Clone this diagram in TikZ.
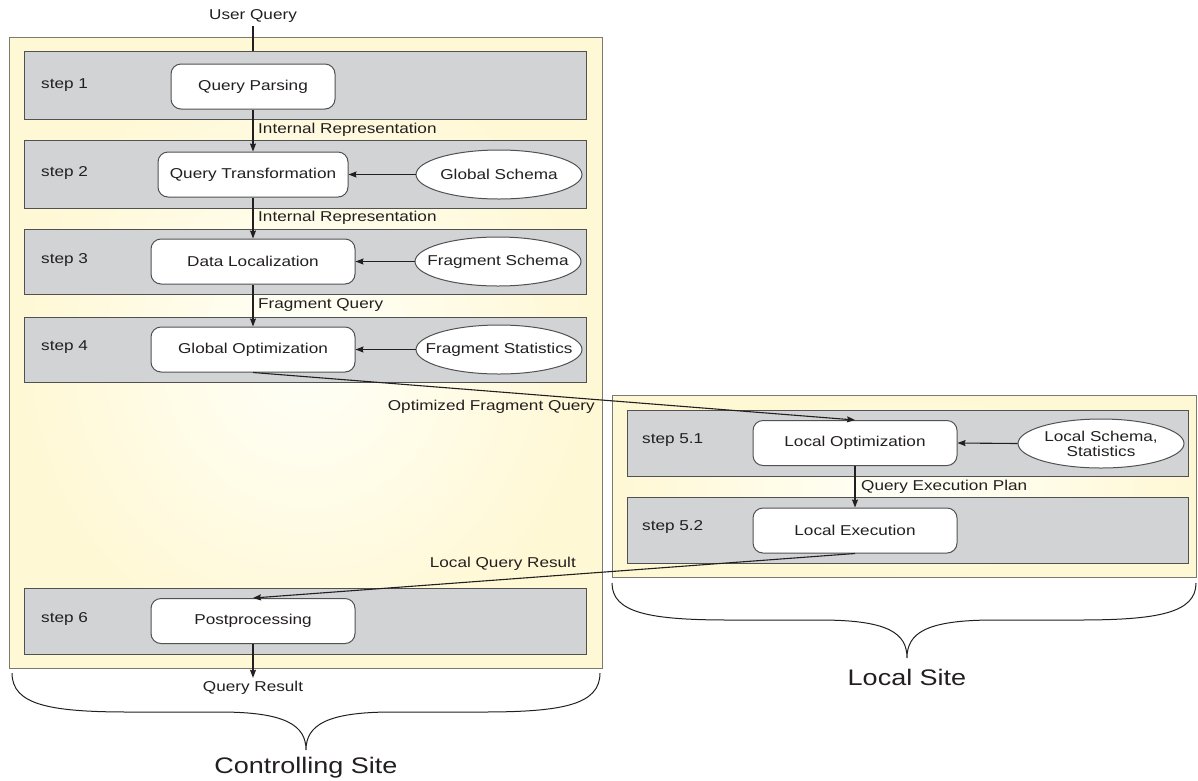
\documentclass[tikz,border=0pt]{standalone}
\usepackage{fontspec}
\setmainfont[FakeStretch=1.2]{Liberation Sans}
\usetikzlibrary{arrows.meta,shapes.geometric}

\definecolor{bandgray}{HTML}{D1D3D4}
\definecolor{edgegray}{HTML}{505153}
\definecolor{inkc}{HTML}{231F20}
\definecolor{siteedge}{HTML}{7A7A70}
\definecolor{paleyellow}{HTML}{FFF8D4}
\definecolor{creamy}{HTML}{FFFFF8}

\begin{document}
\begin{tikzpicture}[x=1pt,y=-1pt,
  every node/.style={font=\fontsize{14.3}{16}\selectfont, text=inkc},
  site/.style={rectangle, draw=siteedge, line width=1.2pt, inner color=creamy,
    outer color=paleyellow, inner sep=0pt, anchor=north west},
  band/.style={rectangle, draw=edgegray, fill=bandgray, line width=1pt,
    inner sep=0pt, anchor=north west},
  proc/.style={rectangle, draw=edgegray, fill=white, rounded corners=10pt,
    line width=1pt, minimum height=45pt, minimum width=204pt, inner sep=0pt},
  store/.style={ellipse, draw=edgegray, fill=white, line width=1pt,
    minimum width=166pt, minimum height=49pt, inner xsep=-30pt, inner ysep=0pt,
    align=center, font=\fontsize{14.3}{15}\selectfont},
  flow/.style={draw=inkc, line width=1.1pt, -{Stealth[length=8pt,width=6pt,inset=1pt]}},
  plain/.style={draw=inkc, line width=1.1pt},
  steplabel/.style={anchor=west, inner sep=0pt},
  flowlabel/.style={anchor=west, inner sep=0pt},
  sitename/.style={font=\fontsize{22.5}{26}\selectfont},
  curly/.style={draw=inkc, line width=1pt}
]
\useasboundingbox (0,0) rectangle (1198,780);

% ---- site frames ----
\node[site, minimum width=593pt, minimum height=631pt] (ctrl) at (9,37) {};
\node[site, minimum width=584pt, minimum height=182pt] (local) at (612,395) {};

% ---- step bands, controlling site ----
\node[band, minimum width=562pt, minimum height=68pt] (band1) at (24,51) {};
\node[band, minimum width=562pt, minimum height=68pt] (band2) at (24,140) {};
\node[band, minimum width=562pt, minimum height=65pt] (band3) at (24,229) {};
\node[band, minimum width=562pt, minimum height=65pt] (band4) at (24,317) {};
\node[band, minimum width=562pt, minimum height=66pt] (band6) at (24,588) {};
% ---- step bands, local site ----
\node[band, minimum width=561pt, minimum height=66pt] (band51) at (627,410) {};
\node[band, minimum width=561pt, minimum height=66pt] (band52) at (627,497) {};

% ---- step names ----
\node[steplabel] (s1) at (41,85) {step 1};
\node[steplabel] (s2) at (41,173) {step 2};
\node[steplabel] (s3) at (41,260) {step 3};
\node[steplabel] (s4) at (41,347) {step 4};
\node[steplabel] (s6) at (41,619) {step 6};
\node[steplabel] (s51) at (642,440) {step 5.1};
\node[steplabel] (s52) at (642,527) {step 5.2};

% ---- processing stages ----
\node[proc, minimum width=164pt] (qp) at (253,86.5) {Query Parsing};
\node[proc, minimum width=190pt] (qt) at (253,174.5) {Query Transformation};
\node[proc] (dl) at (253,261.5) {Data Localization};
\node[proc] (go) at (253,349.5) {Global Optimization};
\node[proc] (pp) at (253,621) {Postprocessing};
\node[proc] (lo) at (855,443) {Local Optimization};
\node[proc] (le) at (855,530.5) {Local Execution};

% ---- catalog inputs ----
\node[store] (gs) at (499,174.5) {Global Schema};
\node[store] (fs) at (498,261.5) {Fragment Schema};
\node[store] (fst) at (499,349.5) {Fragment Statistics};
\node[store] (lss) at (1101,443.5) {Local Schema,\\Statistics};

% ---- flow labels ----
\node (uq) at (253,16) {User Query};
\node[flowlabel] (l1) at (258,129.5) {Internal Representation};
\node[flowlabel] (l2) at (258,218) {Internal Representation};
\node[flowlabel] (l3) at (258,305) {Fragment Query};
\node[flowlabel] (l4) at (861,486.5) {Query Execution Plan};
\node[anchor=east, inner sep=0pt] (l5) at (595,407) {Optimized Fragment Query};
\node[anchor=east, inner sep=0pt] (l6) at (576,564) {Local Query Result};
\node (qr) at (253,688) {Query Result};

% ---- connectors ----
\draw[plain] (uq.south) -- (uq.south |- band1.north);
\draw[flow] (qp.south) -- (qt.north);
\draw[flow] (qt.south) -- (dl.north);
\draw[flow] (dl.south) -- (go.north);
\draw[flow] (gs.west) -- (qt.east);
\draw[flow] (fs.west) -- (dl.east);
\draw[flow] (fst.west) -- (go.east);
\draw[flow] (lss.west) -- (lo.east);
\draw[flow] (go.south) -- (lo.north);
\draw[flow] (lo.south) -- (le.north);
\draw[flow] (le.south) -- (pp.north);
\draw[flow] (pp.south) -- (qr.north);

% ---- site braces ----
\draw[curly] (12,673) .. controls (12,705) and (50,712) .. (130,712)
  -- (220,712) .. controls (285,712) and (306,725) .. (306,750)
  .. controls (306,725) and (327,712) .. (392,712)
  -- (482,712) .. controls (562,712) and (600,705) .. (600,673);
\draw[curly] (612,583) .. controls (612,613) and (650,620) .. (730,620)
  -- (820,620) .. controls (888,620) and (907,633) .. (907,658)
  .. controls (907,633) and (926,620) .. (994,620)
  -- (1078,620) .. controls (1158,620) and (1196,613) .. (1196,583);

\node[sitename] (cs) at (306,768) {Controlling Site};
\node[sitename] (ls) at (907,677) {Local Site};
\end{tikzpicture}
\end{document}
